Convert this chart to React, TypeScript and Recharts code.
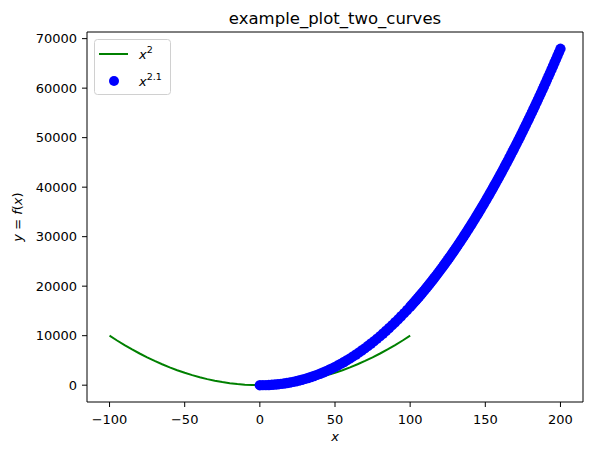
import { ComposedChart, Line, Scatter, XAxis, YAxis, ReferenceArea } from "recharts";

// green curve (x^2)
const lineX = [-100, -95, -90, -85, -80, -75, -70, -65, -60, -55, -50, -45, -40, -35, -30, -25, -20, -15, -10, -5, 0, 5, 10, 15, 20, 25, 30, 35, 40, 45, 50, 55, 60, 65, 70, 75, 80, 85, 90, 95, 100];
const lineY = [10000, 9025, 8100, 7225, 6400, 5625, 4900, 4225, 3600, 3025, 2500, 2025, 1600, 1225, 900, 625, 400, 225, 100, 25, 0, 25, 100, 225, 400, 625, 900, 1225, 1600, 2025, 2500, 3025, 3600, 4225, 4900, 5625, 6400, 7225, 8100, 9025, 10000];

// blue dots (x^2.1) - denser where the curve gets steep
const dotX = [0, 2, 4, 6, 8, 10, 12, 14, 16, 18, 20, 22, 24, 26, 28, 30, 32, 34, 36, 38, 40, 42, 44, 46, 48, 50, 52, 54, 56, 58, 60, 62, 64, 66, 68, 70, 72, 74, 76, 78, 80, 82, 84, 86, 88, 90, 92, 94, 96, 98, 100,
  101, 102, 103, 104, 105, 106, 107, 108, 109, 110, 111, 112, 113, 114, 115, 116, 117, 118, 119, 120,
  121, 122, 123, 124, 125, 126, 127, 128, 129, 130, 131, 132, 133, 134, 135, 136, 137, 138, 139, 140,
  141, 142, 143, 144, 145, 146, 147, 148, 149, 150, 151, 152, 153, 154, 155, 156, 157, 158, 159, 160,
  161, 162, 163, 164, 165, 166, 167, 168, 169, 170, 171, 172, 173, 174, 175, 176, 177, 178, 179, 180,
  181, 182, 183, 184, 185, 186, 187, 188, 189, 190, 191, 192, 193, 194, 195, 196, 197, 198, 199, 200];
const dotY = [0, 4, 18, 43, 79, 126, 185, 255, 338, 433, 540, 659, 791, 936, 1094, 1265, 1448, 1645, 1855, 2077, 2314, 2563, 2827, 3103, 3393, 3697, 4014, 4345, 4690, 5049, 5422, 5808, 6208, 6623, 7052, 7494, 7951, 8422, 8907, 9406, 9919, 10448, 10990, 11547, 12118, 12703, 13304, 13918, 14547, 15192, 15849,
  16183, 16522, 16864, 17209, 17559, 17912, 18269, 18630, 18993, 19361, 19733, 20108, 20487, 20869, 21255, 21645, 22039, 22437, 22838, 23243,
  23651, 24063, 24479, 24900, 25323, 25751, 26181, 26616, 27054, 27496, 27942, 28392, 28846, 29304, 29765, 30230, 30698, 31171, 31647, 32126,
  32611, 33099, 33591, 34086, 34584, 35086, 35593, 36104, 36618, 37136, 37658, 38184, 38713, 39245, 39783, 40325, 40869, 41418, 41970, 42527,
  43086, 43649, 44217, 44790, 45365, 45944, 46527, 47114, 47705, 48301, 48898, 49500, 50106, 50715, 51331, 51950, 52571, 53197, 53826, 54458,
  55096, 55738, 56382, 57030, 57683, 58339, 59000, 59664, 60333, 61005, 61682, 62363, 63048, 63737, 64428, 65123, 65822, 66525, 67233, 67944];

const xTicks = [-100, -50, 0, 50, 100, 150, 200];
const yTicks = [0, 10000, 20000, 30000, 40000, 50000, 60000, 70000];

const lineData = lineX.map((x, i) => ({ x, y: lineY[i] }));
const dotData = dotX.map((x, i) => ({ x, y: dotY[i] }));

const FONT = "'DejaVu Sans', sans-serif";
const labelStyle = { fontSize: 13, fontFamily: FONT };

const Dot = (props: any) => <circle cx={props.cx} cy={props.cy} r={5.2} fill="#0000ff" />;

const XTick = (props: any) => (
  <text x={props.x} y={props.y} dy={14.5} textAnchor="middle" fill="#000" style={labelStyle}>
    {String(props.payload.value).replace("-", "\u2212")}
  </text>
);

const YTick = (props: any) => (
  <text x={props.x} y={props.y} dy={4.7} textAnchor="end" fill="#000" style={labelStyle}>
    {props.payload.value}
  </text>
);

export default function App() {
  return (
    <div style={{ position: "absolute", left: 0, top: 0, width: 593, height: 455, background: "#fff" }}>
      <ComposedChart width={593} height={455} margin={{ top: 32, right: 10, bottom: 0, left: 0 }}>
        <XAxis
          type="number"
          dataKey="x"
          domain={[-115, 215]}
          allowDataOverflow
          ticks={xTicks}
          tick={XTick}
          tickLine={{ stroke: "#000" }}
          tickSize={5}
          axisLine={false}
          height={53}
          tickMargin={2}
        />
        <YAxis
          type="number"
          dataKey="y"
          domain={[-3397, 71341]}
          allowDataOverflow
          ticks={yTicks}
          tick={YTick}
          tickLine={{ stroke: "#000" }}
          tickSize={5}
          axisLine={false}
          width={87}
          tickMargin={5}
        />
        <ReferenceArea x1={-115} x2={215} y1={-3397} y2={71341} fill="none" stroke="#000" strokeWidth={1} />
        <Line data={lineData} dataKey="y" stroke="#008000" strokeWidth={2} dot={false} isAnimationActive={false} type="linear" />
        <Scatter data={dotData} dataKey="y" fill="#0000ff" shape={Dot} isAnimationActive={false} />
      </ComposedChart>
      <svg width={593} height={455} style={{ position: "absolute", left: 0, top: 0, pointerEvents: "none" }} fontFamily={FONT}>
        <text x={335} y={24} textAnchor="middle" fontSize={16.5} fill="#000">example_plot_two_curves</text>
        <text x={335} y={441} textAnchor="middle" fontSize={13} fontStyle="italic" fill="#000">x</text>
        <text transform="translate(22,217) rotate(-90)" textAnchor="middle" fontSize={13} fill="#000">
          <tspan fontStyle="italic">y</tspan> = <tspan fontStyle="italic">f</tspan>(<tspan fontStyle="italic">x</tspan>)
        </text>
        <rect x={94.5} y={39.5} width={76} height={55} rx={3} fill="#fff" fillOpacity={0.8} stroke="#d0d0d0" />
        <line x1={99} y1={54} x2={128} y2={54} stroke="#008000" strokeWidth={2} />
        <text x={139} y={59} fontSize={13} fill="#000">
          <tspan fontStyle="italic">x</tspan>
          <tspan dy={-6} fontSize={9.5}>2</tspan>
        </text>
        <circle cx={114} cy={81} r={5} fill="#0000ff" />
        <text x={139} y={86} fontSize={13} fill="#000">
          <tspan fontStyle="italic">x</tspan>
          <tspan dy={-6} fontSize={9.5}>2.1</tspan>
        </text>
      </svg>
    </div>
  );
}
